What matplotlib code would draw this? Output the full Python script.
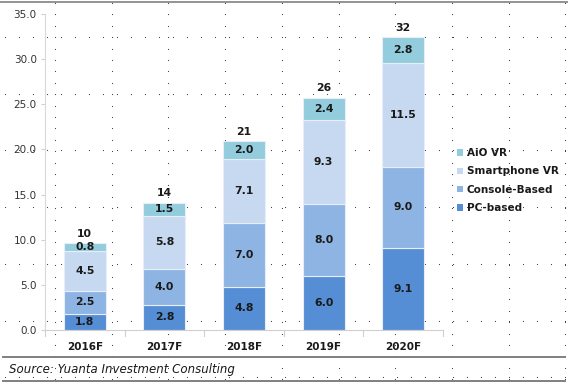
import matplotlib
matplotlib.use("Agg")
import matplotlib.pyplot as plt
from matplotlib.lines import Line2D
from matplotlib.patches import Patch
import numpy as np

categories = ["2016F", "2017F", "2018F", "2019F", "2020F"]
pc_based = [1.8, 2.8, 4.8, 6.0, 9.1]
console_based = [2.5, 4.0, 7.0, 8.0, 9.0]
smartphone_vr = [4.5, 5.8, 7.1, 9.3, 11.5]
aio_vr = [0.8, 1.5, 2.0, 2.4, 2.8]
totals = ["10", "14", "21", "26", "32"]
series_names = ["PC-based", "Console-Based", "Smartphone VR", "AiO VR"]
series_colors = ["#558ED5", "#8EB4E3", "#C6D9F1", "#93CDDD"]
yticks = [0, 5, 10, 15, 20, 25, 30, 35]

W, H = 568, 386
fig = plt.figure(figsize=(W / 100, H / 100), dpi=100)
fig.patch.set_facecolor("white")

# page dotted grid (background decoration)
xs_cols = np.arange(55, W, 56.7)
ys_rows = np.arange(37, H, 56.7)
for xc in xs_cols:
    yy = np.arange(3, H, 11.4)
    fig.add_artist(Line2D(np.full_like(yy, xc) / W, 1 - yy / H, linestyle="none",
                          marker="s", markersize=0.75, color="#444444",
                          markeredgewidth=0, transform=fig.transFigure, zorder=0))
for yr in ys_rows:
    xx = np.arange(5, W, 14.0)
    fig.add_artist(Line2D(xx / W, np.full_like(xx, 1 - yr / H), linestyle="none",
                          marker="s", markersize=0.75, color="#444444",
                          markeredgewidth=0, transform=fig.transFigure, zorder=0))

ax = fig.add_axes([45 / W, 1 - 330 / H, (443 - 45) / W, (330 - 14) / H])
ax.set_facecolor("none")
x = np.arange(len(categories))
data = [pc_based, console_based, smartphone_vr, aio_vr]
bottom = np.zeros(len(categories))
handles = []
for vals, name, col in zip(data, series_names, series_colors):
    vals = np.array(vals)
    ax.bar(x, vals, width=0.53, bottom=bottom, color=col,
           edgecolor="#E8EEF8", linewidth=0.8, label=name, zorder=2)
    for xi, b, v in zip(x, bottom, vals):
        ax.text(xi, b + v / 2, f"{v:.1f}", ha="center", va="center",
                fontsize=7.8, fontweight="bold", color="#1a1a1a", zorder=3)
    bottom = bottom + vals
    handles.append(Patch(facecolor=col, edgecolor="none", label=name))

for xi, top, t in zip(x, bottom, totals):
    ax.text(xi, top + 0.5, t, ha="center", va="bottom", fontsize=7.8,
            fontweight="bold", color="#1a1a1a", zorder=3)

ax.set_xlim(-0.5, len(categories) - 0.5)
ax.set_ylim(0, 35)
ax.set_yticks(yticks)
ax.set_yticklabels([f"{v:.1f}" for v in yticks], fontsize=7.5, color="#333333")
ax.set_xticks(x)
ax.set_xticklabels(categories, fontsize=7.5, fontweight="bold", color="#1a1a1a")
ax.tick_params(axis="x", length=0, pad=9)
ax.tick_params(axis="y", length=3, color="#D0D0D0", pad=3)
for b in np.arange(-0.5, len(categories), 1.0):
    ax.plot([b, b], [0, -0.7], color="#D0D0D0", lw=0.8, clip_on=False, zorder=1)
for s in ["top", "right"]:
    ax.spines[s].set_visible(False)
ax.spines["left"].set_color("#D9D9D9")
ax.spines["bottom"].set_color("#D0D0D0")

leg = fig.legend(handles=handles[::-1], loc="upper left",
                 bbox_to_anchor=(453 / W, 1 - 144 / H), frameon=False,
                 fontsize=7.5, handlelength=0.6, handleheight=0.6,
                 handletextpad=0.3, labelspacing=0.8, borderaxespad=0)
for t in leg.get_texts():
    t.set_fontweight("bold")
    t.set_color("#1a1a1a")

fig.add_artist(Line2D([0, 1], [1 - 2 / H, 1 - 2 / H], color="#808080", lw=1.2,
                      transform=fig.transFigure))
fig.add_artist(Line2D([0.005, 0.995], [1 - 357 / H, 1 - 357 / H], color="#808080", lw=1.4,
                      transform=fig.transFigure))
fig.add_artist(Line2D([0.005, 0.995], [1 - 381 / H, 1 - 381 / H], color="#808080", lw=1.4,
                      transform=fig.transFigure))
fig.text(9 / W, 1 - 370 / H, "Source: Yuanta Investment Consulting", fontsize=8.5,
         style="italic", color="#1a1a1a", va="center", ha="left")

fig.savefig("out.png", dpi=100)
